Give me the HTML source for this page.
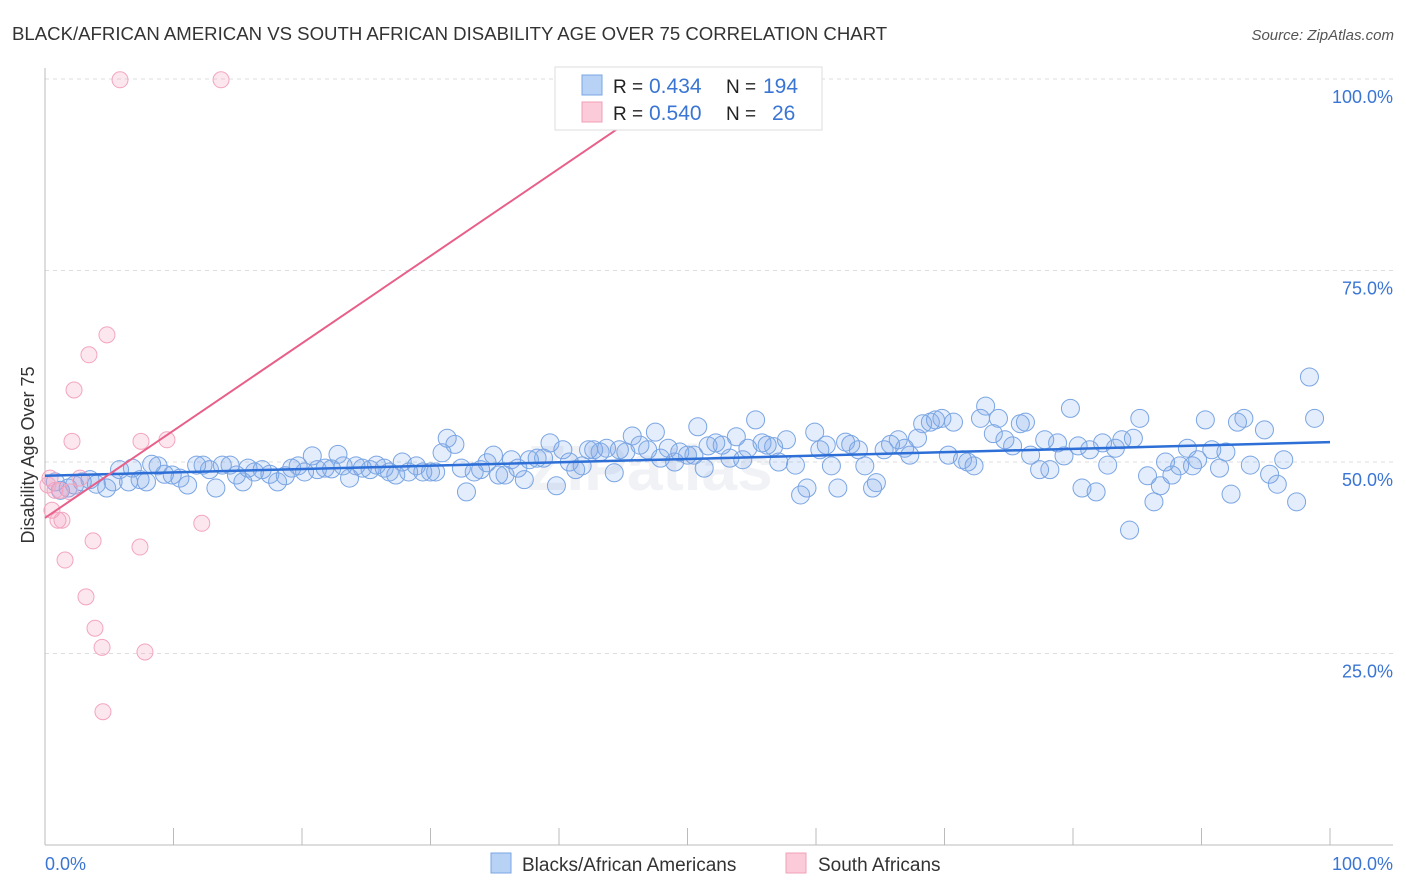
<!DOCTYPE html>
<html><head><meta charset="utf-8">
<style>
body{margin:0;background:#fff;font-family:"Liberation Sans",sans-serif;}
#wrap{position:relative;width:1406px;height:892px;overflow:hidden;}
</style></head>
<body>
<div id="wrap">
<svg id="svg" width="1406" height="892" xmlns="http://www.w3.org/2000/svg">
<text x="12" y="40" font-size="18.6" fill="#333">BLACK/AFRICAN AMERICAN VS SOUTH AFRICAN DISABILITY AGE OVER 75 CORRELATION CHART</text>
<text x="1394" y="40" font-size="15" fill="#555" font-style="italic" text-anchor="end">Source: ZipAtlas.com</text>
<text x="650" y="490" font-size="64" fill="#f0f2f6" text-anchor="middle" font-weight="bold">ZIPatlas</text>
<text transform="translate(34,455) rotate(-90)" font-size="18" fill="#333" text-anchor="middle">Disability Age Over 75</text>
<g id="grid"></g><g id="pts"></g><g id="lines"></g>
<g>
<rect x="555" y="67" width="267" height="63" fill="#fff" stroke="#ddd"/>
<rect x="582" y="75" width="20" height="20" fill="#b8d2f5" stroke="#7aa5e3"/>
<rect x="582" y="102" width="20" height="20" fill="#fccbd9" stroke="#f0a0b8"/>
<text x="613" y="93" font-size="19" fill="#222">R =</text>
<text x="649" y="93" font-size="21" fill="#3a75d4">0.434</text>
<text x="726" y="93" font-size="19" fill="#222">N =</text>
<text x="763" y="93" font-size="21" fill="#3a75d4">194</text>
<text x="613" y="120" font-size="19" fill="#222">R =</text>
<text x="649" y="120" font-size="21" fill="#3a75d4">0.540</text>
<text x="726" y="120" font-size="19" fill="#222">N =</text>
<text x="772" y="120" font-size="21" fill="#3a75d4">26</text>
</g>
<g>
<rect x="491" y="853" width="20" height="20" fill="#b8d2f5" stroke="#7aa5e3"/>
<text x="522" y="871" font-size="19" fill="#333">Blacks/African Americans</text>
<rect x="786" y="853" width="20" height="20" fill="#fccbd9" stroke="#f0a0b8"/>
<text x="818" y="871" font-size="19" fill="#333">South Africans</text>
</g>
<text x="45" y="870" font-size="18" fill="#3a75d4">0.0%</text>
<text x="1393" y="870" font-size="18" fill="#3a75d4" text-anchor="end">100.0%</text>
</svg>
</div>
<script>
const yTicks=[100,75,50,25];
const yTickLabels=["100.0%","75.0%","50.0%","25.0%"];
const xTicks=[0,10,20,30,40,50,60,70,80,90,100];
const blueX=[0.8,1.2,1.8,2.3,2.9,3.5,4.0,4.8,5.3,5.8,6.5,6.8,7.4,7.9,8.3,8.8,9.3,9.9,10.5,11.1,11.8,12.3,12.8,13.3,13.8,14.4,14.9,15.4,15.8,16.3,16.9,17.5,18.1,18.7,19.2,19.7,20.2,20.8,21.2,21.8,22.3,22.8,23.2,23.7,24.2,24.7,25.3,25.8,26.4,26.8,27.3,27.8,28.3,28.9,29.4,30.0,30.4,30.9,31.3,31.9,32.4,32.8,33.4,33.9,34.4,34.9,35.3,35.8,36.3,36.8,37.3,37.7,38.3,38.8,39.3,39.8,40.3,40.8,41.3,41.8,42.3,42.7,43.2,43.7,44.3,44.7,45.2,45.7,46.3,46.9,47.5,47.9,48.5,49.0,49.4,50.0,50.5,50.8,51.3,51.6,52.2,52.7,53.3,53.8,54.3,54.7,55.3,55.8,56.2,56.7,57.1,57.7,58.4,58.8,59.3,59.9,60.3,60.8,61.2,61.7,62.3,62.7,63.3,63.8,64.4,64.7,65.3,65.8,66.4,66.9,67.3,67.9,68.3,68.9,69.3,69.8,70.3,70.7,71.4,71.8,72.3,72.8,73.2,73.8,74.2,74.7,75.3,75.9,76.3,76.7,77.4,77.8,78.2,78.8,79.3,79.8,80.4,80.7,81.3,81.8,82.3,82.7,83.3,83.8,84.4,84.7,85.2,85.8,86.3,86.8,87.2,87.7,88.3,88.9,89.3,89.7,90.3,90.8,91.4,91.9,92.3,92.8,93.3,93.8,94.9,95.3,95.9,96.4,97.4,98.4,98.8];
const blueY=[47.4,46.3,46.6,47.0,47.4,47.7,47.1,46.6,47.4,49.0,47.4,49.2,47.7,47.4,49.7,49.5,48.4,48.3,47.9,47.0,49.6,49.6,49.0,46.6,49.6,49.6,48.3,47.4,49.2,48.7,49.0,48.4,47.4,48.2,49.2,49.5,48.7,50.8,49.0,49.2,49.1,51.0,49.5,47.9,49.5,49.2,49.0,49.6,49.2,48.7,48.3,50.0,48.7,49.5,48.7,48.7,48.7,51.2,53.1,52.3,49.2,46.1,48.7,49.0,49.9,50.9,48.3,48.3,50.3,49.2,47.7,50.3,50.5,50.5,52.5,46.9,51.6,50.0,49.0,49.5,51.6,51.6,51.3,51.8,48.6,51.6,51.3,53.4,52.2,51.6,53.9,50.5,51.8,50.0,51.3,50.9,50.9,54.6,49.2,52.1,52.5,52.2,50.5,53.3,50.3,51.8,55.5,52.5,52.2,52.0,50.0,52.9,49.6,45.7,46.6,53.9,51.6,52.2,49.5,46.6,52.6,52.3,51.6,49.5,46.6,47.3,51.6,52.3,52.9,51.8,50.9,53.1,55.0,55.2,55.5,55.7,50.9,55.2,50.3,50.0,49.5,55.7,57.3,53.7,55.7,52.9,52.1,55.0,55.2,50.9,49.0,52.9,49.0,52.5,50.8,57.0,52.1,46.6,51.6,46.1,52.5,49.6,51.8,52.9,41.1,53.1,55.7,48.2,44.8,46.9,50.0,48.3,49.5,51.8,49.5,50.3,55.5,51.6,49.2,51.3,45.8,55.2,55.7,49.6,54.2,48.4,47.1,50.3,44.8,61.1,55.7];
const pinkX=[5.84,13.7,54.7,4.82,3.42,2.26,2.10,7.47,9.49,2.72,0.39,0.54,1.01,1.32,1.56,3.74,7.39,12.2,3.19,3.89,4.44,7.78,4.51,0.78,1.95,1.17,0.23];
const pinkY=[99.9,99.9,99.9,66.6,64.0,59.4,52.7,52.7,52.9,47.9,47.9,43.7,42.4,42.4,37.2,39.7,38.9,42.0,32.4,28.3,25.8,25.2,17.4,46.3,46.1,46.3,47.0];
const blueTrend=[48.2,52.6];
const pinkTrend=[42.7,1.14];

const X=v=>45+v*12.85, Y=v=>845-v*7.66;
const NS="http://www.w3.org/2000/svg";
function mk(t,a,p){const e=document.createElementNS(NS,t);for(const k in a)e.setAttribute(k,a[k]);p.appendChild(e);return e;}
const grid=document.getElementById('grid');
yTicks.forEach((t,i)=>{
 const l=mk('line',{x1:45,x2:1393,y1:Y(t),y2:Y(t),stroke:'#ddd','stroke-dasharray':'4,4'},grid);
 
 
 const tx=mk('text',{x:1393,y:Y(t)+24,'font-size':18,fill:'#3a75d4','text-anchor':'end'},grid);
 tx.textContent=yTickLabels[i];
 
 
});
const ax=mk('line',{x1:45,x2:1393,y1:845,y2:845,stroke:'#bbb'},grid);


const ay=mk('line',{x1:45,x2:45,y1:68,y2:845,stroke:'#bbb'},grid);


xTicks.forEach(t=>{
 const l=mk('line',{x1:X(t),x2:X(t),y1:828,y2:845,stroke:'#bbb'},grid);
 
 
});
const pts=document.getElementById('pts');
blueX.forEach((x,i)=>{
 const c=mk('circle',{cx:X(x),cy:Y(blueY[i]),r:9,fill:'rgba(120,165,235,0.2)',stroke:'#7aa5e3','stroke-width':1},pts);
 
 
});
pinkX.forEach((x,i)=>{
 const c=mk('circle',{cx:X(x),cy:Y(pinkY[i]),r:8,fill:'rgba(245,160,190,0.25)',stroke:'#f3a5bf','stroke-width':1},pts);
 
 
});
const lines=document.getElementById('lines');
const bl=mk('line',{x1:X(0),y1:Y(blueTrend[0]),x2:X(100),y2:Y(blueTrend[1]),stroke:'#2d6fd6','stroke-width':2.5},lines);


const pe=(100-pinkTrend[0])/pinkTrend[1];
const pl=mk('line',{x1:X(0),y1:Y(pinkTrend[0]),x2:X(pe),y2:Y(100),stroke:'#e8608a','stroke-width':2},lines);


</script>
</body></html>
